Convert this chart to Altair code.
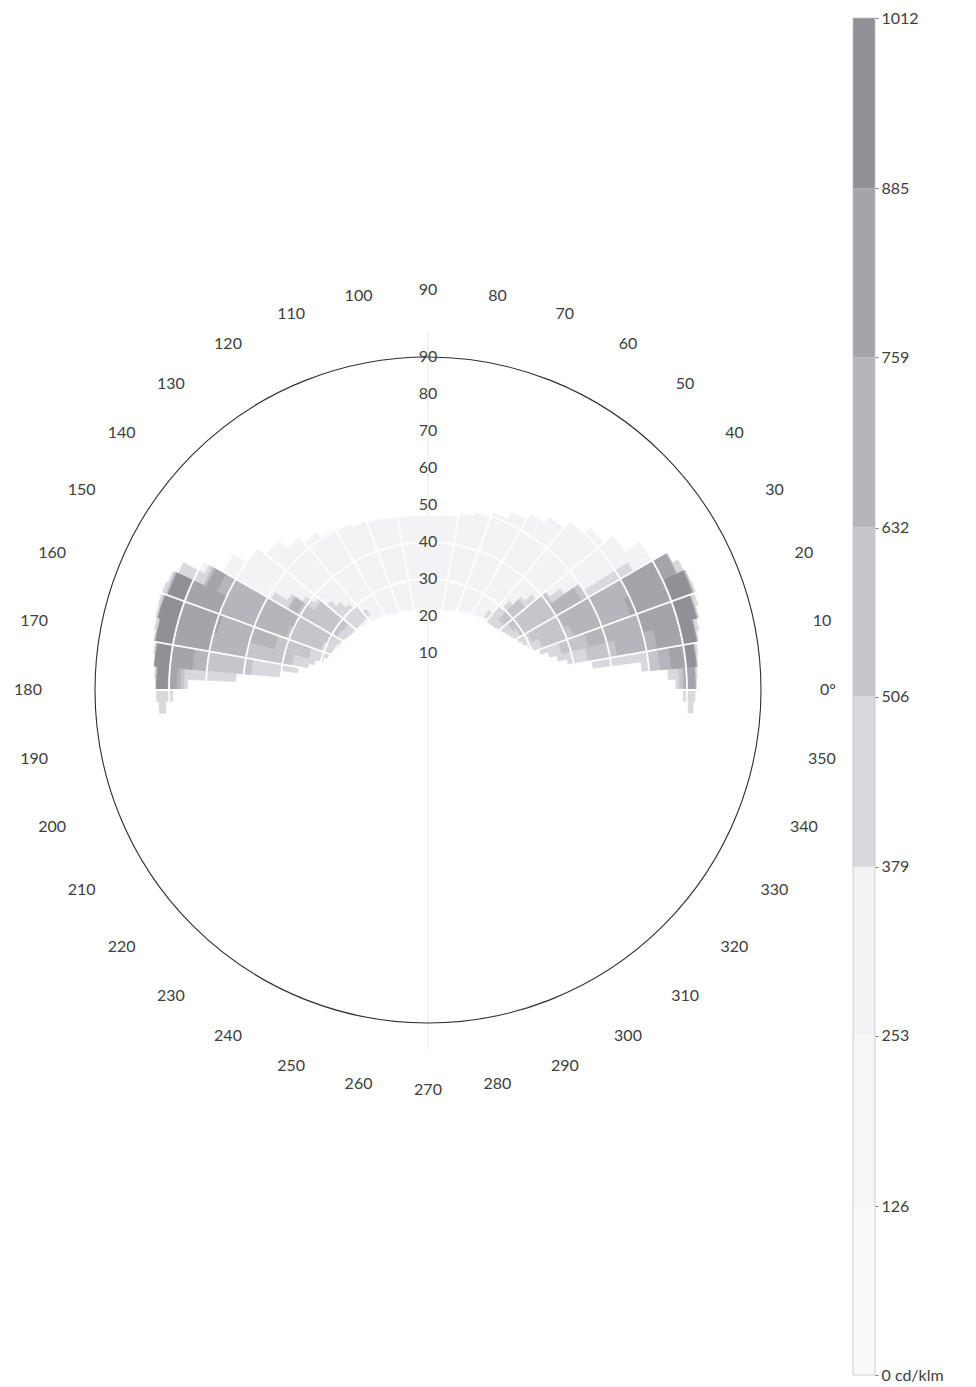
import math

import altair as alt
import pandas as pd

# ---------------------------------------------------------------------------
# Layout of the polar diagram (pixels inside the view)
# ---------------------------------------------------------------------------
VIEW_W, VIEW_H = 875, 1357
ORIGIN_X, ORIGIN_Y = 428, 672
R_MAX = 333            # radius of the gamma = 90 circle
LABEL_RADIUS = 400     # radius of the C-angle labels
FONT = "Lato"
TEXT_COLOR = "#404040"

# ---------------------------------------------------------------------------
# Intensity classes (cd/klm) and their grey tones
# ---------------------------------------------------------------------------
LEVELS = [0, 126, 253, 379, 506, 632, 759, 885, 1012]
BAND_COLORS = ["#f9f9fa", "#f6f6f8", "#f3f3f6", "#d8d8dd",
               "#c5c5cb", "#b5b5bb", "#a4a4aa", "#909097"]

C_TICKS = list(range(0, 360, 10))
C_TICK_TEXT = ["0°"] + [str(c) for c in C_TICKS[1:]]
GAMMA_TICKS = [10, 20, 30, 40, 50, 60, 70, 80, 90]
GAMMA_RINGS = [10, 20, 30, 40, 50, 60, 70, 80]

# ---------------------------------------------------------------------------
# Isocandela zones: each zone is a run of C columns (start angle) with the
# inner / outer gamma bound of the zone in that column.
# ---------------------------------------------------------------------------
# 253 cd/klm and above - the broad dome between the two wings (5 deg columns)
DOME_C = list(range(30, 155, 5))
DOME_IN = [27, 26, 25.5, 25, 24.5, 24, 23.5, 23, 22.5, 22, 22, 22, 22, 22, 22,
           22.5, 22.5, 23, 23.5, 24, 24.5, 25, 25.5, 26, 26.5]
DOME_OUT = [70, 65, 62, 59.5, 57, 55, 53, 51, 49.5, 48.5, 47.5, 47, 47, 47.2,
            47.5, 48, 48.5, 49.5, 50.5, 52, 54, 57, 60, 64, 70]

# 379 cd/klm and above - wing outlines (2.5 deg columns)
LEFT3_C = [127.5, 130, 132.5, 135, 137.5, 140, 142.5, 145, 147.5, 150, 152.5,
           155, 157.5, 160, 162.5, 165, 167.5, 170, 172.5, 175, 177.5, 180, 182.5]
LEFT3_IN = [25.5, 25.5, 25.5, 25.5, 25.5, 25.5, 25.7, 26, 26.5, 27, 27.5, 27.7,
            28, 28.5, 29.5, 31.5, 33, 35.5, 40, 52, 65, 69, 71]
LEFT3_OUT = [27.5, 29.5, 31.5, 33.5, 35.5, 38.5, 41.5, 45, 49, 68, 74.5, 76,
             76.5, 76.5, 76.2, 75.8, 75.3, 74.8, 74.3, 74, 73.7, 73.4, 72.8]

RIGHT3_C = [355, 357.5, 0, 2.5, 5, 7.5, 10, 12.5, 15, 17.5, 20, 22.5, 25, 27.5,
            30, 32.5, 35, 37.5, 40, 42.5, 45, 47.5, 50]
RIGHT3_IN = [70.5, 69, 67, 65, 58, 45, 38.5, 36, 34, 32, 30.5, 29.5, 28.5, 27.8,
             27, 26.5, 26, 25.5, 25, 24.7, 24.5, 24.5, 25]
RIGHT3_OUT = [71.8, 72.2, 72.6, 72.9, 73.2, 73.6, 74.3, 75, 75.8, 76.5, 77, 76.8,
              76.2, 74.5, 64, 50, 45, 41.5, 38, 35.5, 32.5, 29.5, 27]

# 506 cd/klm and above (5 deg columns)
LEFT4_C = [140, 145, 150, 155, 160, 165, 170, 175]
LEFT4_IN = [28, 28.5, 29.5, 31, 33.5, 37.5, 48, 66]
LEFT4_OUT = [37.5, 44, 67, 75.5, 75.8, 75, 74.3, 73.5]

RIGHT4_C = [0, 5, 10, 15, 20, 25, 30, 35, 40]
RIGHT4_IN = [68, 60, 44, 37.5, 33, 31, 29, 28, 27]
RIGHT4_OUT = [72.4, 73, 74, 75.5, 76.5, 74.3, 49.5, 41, 34.5]

# 632 cd/klm and above
LEFT5_C = [145, 150, 155, 160, 165, 170, 175]
LEFT5_IN = [41, 40, 41, 43, 50, 60, 67]
LEFT5_OUT = [43.5, 66.5, 75, 75.5, 74.8, 74.2, 73.4]

RIGHT5_C = [0, 5, 10, 15, 20, 25, 30]
RIGHT5_IN = [69, 63, 52, 45, 42, 40.5, 40]
RIGHT5_OUT = [72.3, 72.9, 73.9, 75.3, 76.3, 74.2, 48]

# 759 cd/klm and above
LEFT6_C = [150, 155, 160, 165, 170, 175]
LEFT6_IN = [63, 60, 59, 60, 64, 68]
LEFT6_OUT = [66, 75, 75.5, 74.8, 74.2, 73.4]

RIGHT6_C = [0, 5, 10, 15, 20, 25]
RIGHT6_IN = [69.5, 66, 63, 60, 58.5, 60]
RIGHT6_OUT = [72.2, 72.8, 73.8, 75.2, 76.2, 74]

# 885 cd/klm and above
LEFT7_C = [155, 160, 165, 170, 175]
LEFT7_IN = [70.5, 70, 70, 70, 70.5]
LEFT7_OUT = [74.8, 75.5, 74.8, 74.2, 73.3]

RIGHT7_C = [5, 10, 15, 20]
RIGHT7_IN = [70.5, 70, 70, 70.5]
RIGHT7_OUT = [72.7, 73.7, 75.1, 76]

ZONES = [
    (2, 5.0, DOME_C, DOME_IN, DOME_OUT),
    (3, 2.5, LEFT3_C, LEFT3_IN, LEFT3_OUT),
    (3, 2.5, RIGHT3_C, RIGHT3_IN, RIGHT3_OUT),
    (4, 5.0, LEFT4_C, LEFT4_IN, LEFT4_OUT),
    (4, 5.0, RIGHT4_C, RIGHT4_IN, RIGHT4_OUT),
    (5, 5.0, LEFT5_C, LEFT5_IN, LEFT5_OUT),
    (5, 5.0, RIGHT5_C, RIGHT5_IN, RIGHT5_OUT),
    (6, 5.0, LEFT6_C, LEFT6_IN, LEFT6_OUT),
    (6, 5.0, RIGHT6_C, RIGHT6_IN, RIGHT6_OUT),
    (7, 5.0, LEFT7_C, LEFT7_IN, LEFT7_OUT),
    (7, 5.0, RIGHT7_C, RIGHT7_IN, RIGHT7_OUT),
]

rows = []
for level, width, cs, g_in, g_out in ZONES:
    for c, a, b in zip(cs, g_in, g_out):
        rows.append({"level": level, "c0": c, "c1": c + width, "g0": a, "g1": b})
sectors = pd.DataFrame(rows)

# ---------------------------------------------------------------------------
# Shared scales: C = 0 at 3 o'clock, counter-clockwise; gamma linear in radius
# ---------------------------------------------------------------------------
THETA = alt.Scale(domain=[0, 360], range=[math.pi / 2, math.pi / 2 - 2 * math.pi])
RADIUS = alt.Scale(type="linear", domain=[0, 90], range=[0, R_MAX])
LEVEL_SCALE = alt.Scale(domain=list(range(8)), range=BAND_COLORS)

CENTER = dict(x=alt.value(ORIGIN_X), y=alt.value(ORIGIN_Y))

bands = alt.Chart(sectors).mark_arc(strokeWidth=0.6).encode(
    theta=alt.Theta("c0:Q", scale=THETA, stack=False),
    theta2="c1:Q",
    radius=alt.Radius("g1:Q", scale=RADIUS),
    radius2="g0:Q",
    color=alt.Color("level:O", scale=LEVEL_SCALE, legend=None),
    stroke=alt.Stroke("level:O", scale=LEVEL_SCALE, legend=None),
    **CENTER,
)

# white C / gamma grid
rings_df = pd.DataFrame({"g": GAMMA_RINGS, "t0": 0, "t1": 360})
rings = alt.Chart(rings_df).mark_arc(filled=False, stroke="white", strokeWidth=1.8).encode(
    theta=alt.Theta("t0:Q", scale=THETA, stack=False),
    theta2="t1:Q",
    radius=alt.Radius("g:Q", scale=RADIUS),
    **CENTER,
)

spokes_df = pd.DataFrame({"c": C_TICKS, "g": 90})
spokes = alt.Chart(spokes_df).mark_arc(filled=False, stroke="white", strokeWidth=1.8).encode(
    theta=alt.Theta("c:Q", scale=THETA, stack=False),
    theta2="c:Q",
    radius=alt.Radius("g:Q", scale=RADIUS),
    **CENTER,
)

# faint vertical axis through the pole
axis_df = pd.DataFrame({"c": [90, 270], "g": [97, 97]})
vertical_axis = alt.Chart(axis_df).mark_arc(filled=False, stroke="#f0f0f0", strokeWidth=1).encode(
    theta=alt.Theta("c:Q", scale=THETA, stack=False),
    theta2="c:Q",
    radius=alt.Radius("g:Q", scale=RADIUS),
    **CENTER,
)

# gamma = 90 boundary
rim_df = pd.DataFrame({"g": [90], "t0": [0], "t1": [360]})
rim = alt.Chart(rim_df).mark_arc(filled=False, stroke="#2e2e2e", strokeWidth=1.1).encode(
    theta=alt.Theta("t0:Q", scale=THETA, stack=False),
    theta2="t1:Q",
    radius=alt.Radius("g:Q", scale=RADIUS),
    **CENTER,
)

# C-angle labels around the rim
c_labels = alt.Chart(pd.DataFrame({"c": C_TICKS, "txt": C_TICK_TEXT})).mark_text(
    font=FONT, fontSize=16, color=TEXT_COLOR, align="center", baseline="middle"
).encode(
    theta=alt.Theta("c:Q", scale=THETA, stack=False),
    radius=alt.value(LABEL_RADIUS),
    text="txt:N",
    **CENTER,
)

# gamma labels along the C = 90 direction
g_labels = alt.Chart(pd.DataFrame({"g": GAMMA_TICKS, "c": 90})).mark_text(
    font=FONT, fontSize=16, color=TEXT_COLOR, align="center", baseline="middle"
).encode(
    theta=alt.Theta("c:Q", scale=THETA, stack=False),
    radius=alt.Radius("g:Q", scale=RADIUS),
    text="g:Q",
    **CENTER,
)

# ---------------------------------------------------------------------------
# Colour bar on the right
# ---------------------------------------------------------------------------
bar_df = pd.DataFrame({"lo": LEVELS[:-1], "hi": LEVELS[1:], "level": list(range(8))})
BAR_AXIS = alt.Axis(
    orient="right", values=LEVELS, title="", grid=False, domain=False, format="d",
    tickSize=3, tickColor="#777777", labelPadding=3, labelFont=FONT,
    labelFontSize=16, labelColor=TEXT_COLOR, labelOverlap=False,
    labelExpr="datum.value == 0 ? '0 cd/klm' : datum.label",
)
BAR_Y = alt.Scale(domain=[0, 1012], nice=False)

colorbar = alt.Chart(bar_df).mark_rect().encode(
    x=alt.value(853), x2=alt.value(875),
    y=alt.Y("lo:Q", scale=BAR_Y, axis=BAR_AXIS),
    y2="hi:Q",
    color=alt.Color("level:O", scale=LEVEL_SCALE, legend=None),
)

frame_df = pd.DataFrame({"lo": [0], "hi": [1012]})
colorbar_frame = alt.Chart(frame_df).mark_rect(
    filled=False, stroke="#c4c4c4", strokeWidth=0.8
).encode(
    x=alt.value(853), x2=alt.value(875),
    y=alt.Y("lo:Q", scale=BAR_Y, axis=BAR_AXIS),
    y2="hi:Q",
)

chart = alt.layer(
    bands, rings, spokes, vertical_axis, rim, c_labels, g_labels,
    colorbar, colorbar_frame,
).properties(
    width=VIEW_W,
    height=VIEW_H,
    autosize=alt.AutoSizeParams(type="none"),
    padding={"left": 0, "top": 18, "right": 101, "bottom": 12},
    background="white",
).configure_view(strokeWidth=0)

chart.save("out.html", embed_options={"renderer": "svg", "actions": False})
